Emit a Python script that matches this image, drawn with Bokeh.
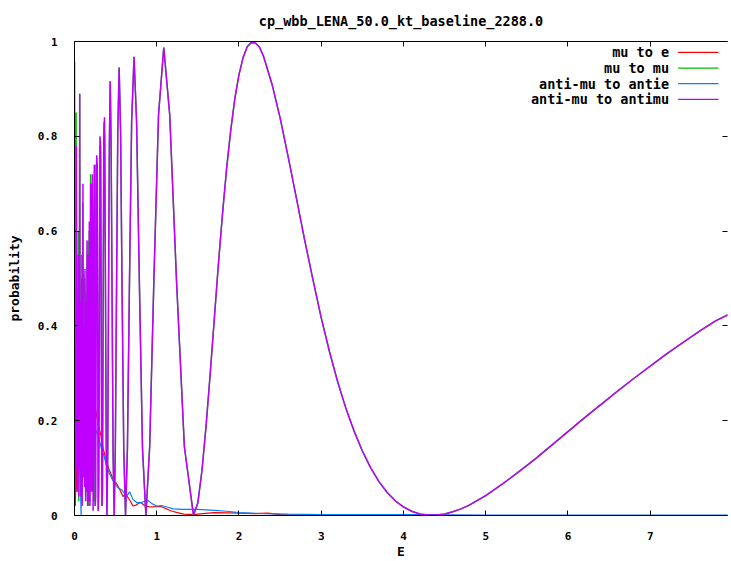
from bokeh.plotting import figure
from bokeh.models import Range1d, LinearAxis, FixedTicker, Label, BoxAnnotation, CustomLabelingPolicy
from bokeh.embed import file_html
from bokeh.resources import INLINE

title_text = "cp_wbb_LENA_50.0_kt_baseline_2288.0"
x_label = "E"
y_label = "probability"
series_names = ["mu to e", "mu to mu", "anti-mu to antie", "anti-mu to antimu"]
series_colors = ["#ff0000", "#00c000", "#0080ff", "#c000ff"]
x_ticks = [0, 1, 2, 3, 4, 5, 6, 7]
y_ticks = [0, 0.2, 0.4, 0.6, 0.8, 1.0]
y_tick_labels = ["0", "0.2", "0.4", "0.6", "0.8", "1"]

# anti-mu to antimu, low energy (dense oscillation region)
antimu_e_low = [0.004, 0.008, 0.013, 0.018, 0.023, 0.028, 0.033, 0.038, 0.043, 0.048,
                0.053, 0.058, 0.063, 0.068, 0.073, 0.078, 0.083, 0.088, 0.093, 0.098,
                0.103, 0.108, 0.113, 0.118, 0.123, 0.127, 0.131, 0.136, 0.140, 0.144,
                0.148, 0.152, 0.156, 0.160, 0.164, 0.168, 0.172, 0.176, 0.180, 0.184,
                0.188, 0.192, 0.197, 0.202, 0.207, 0.212, 0.217, 0.222, 0.226, 0.231,
                0.236, 0.242, 0.247, 0.252, 0.258, 0.264, 0.270, 0.277, 0.283, 0.289,
                0.296, 0.303, 0.310, 0.318, 0.326, 0.333, 0.340, 0.348, 0.356, 0.365,
                0.375, 0.385]
antimu_p_low = [0.20, 0.05, 0.35, 0.10, 0.78, 0.40, 0.05, 0.30, 0.10, 0.55,
                0.04, 0.20, 0.89, 0.10, 0.45, 0.04, 0.30, 0.50, 0.02, 0.15,
                0.70, 0.08, 0.40, 0.12, 0.06, 0.52, 0.38, 0.03, 0.45, 0.20,
                0.05, 0.58, 0.48, 0.02, 0.35, 0.55, 0.03, 0.20, 0.62, 0.30,
                0.02, 0.40, 0.70, 0.10, 0.05, 0.55, 0.72, 0.45, 0.01, 0.10,
                0.60, 0.74, 0.50, 0.02, 0.04, 0.40, 0.76, 0.74, 0.40, 0.01,
                0.06, 0.45, 0.80, 0.78, 0.35, 0.02, 0.05, 0.40, 0.80, 0.84,
                0.55, 0.15]

# survival probability, middle energies (shared by mu to mu and anti-mu to antimu)
surv_e_mid = [0.3947, 0.4039, 0.4135, 0.4236, 0.4342, 0.4453, 0.4571, 0.4694, 0.4824, 0.4962,
              0.5108, 0.5263, 0.5428, 0.5603, 0.5789, 0.5989, 0.6203, 0.6433, 0.6680, 0.6947,
              0.7237, 0.7551, 0.7895, 0.8270, 0.8684, 0.9141, 0.9649, 1.0216, 1.0855, 1.1579,
              1.2406, 1.3360]
surv_p_mid = [0.0, 0.13, 0.46, 0.78, 0.916, 0.78, 0.46, 0.13, 0.0, 0.14,
              0.47, 0.81, 0.945, 0.81, 0.47, 0.14, 0.0, 0.14, 0.485, 0.83,
              0.968, 0.83, 0.485, 0.14, 0.0, 0.145, 0.495, 0.845, 0.987, 0.845,
              0.495, 0.145]

# survival probability, high energies
surv_e_high = [1.447, 1.50, 1.55, 1.60, 1.65, 1.70, 1.75, 1.80, 1.85, 1.90,
               1.95, 2.00, 2.05, 2.10, 2.15, 2.20, 2.25, 2.30, 2.40, 2.50,
               2.60, 2.70, 2.80, 2.90, 3.00, 3.10, 3.20, 3.30, 3.40, 3.50,
               3.60, 3.70, 3.80, 3.90, 4.00, 4.10, 4.20, 4.30, 4.40, 4.50,
               4.60, 4.70, 4.80, 4.90, 5.00, 5.20, 5.40, 5.60, 5.80, 6.00,
               6.20, 6.40, 6.60, 6.80, 7.00, 7.20, 7.40, 7.60, 7.80, 8.00]
surv_p_high = [0.0, 0.027, 0.095, 0.189, 0.299, 0.415, 0.531, 0.637, 0.733, 0.813,
               0.880, 0.930, 0.966, 0.989, 0.998, 0.997, 0.988, 0.968, 0.911, 0.839,
               0.755, 0.668, 0.580, 0.497, 0.417, 0.346, 0.282, 0.226, 0.178, 0.136,
               0.101, 0.072, 0.049, 0.031, 0.018, 0.009, 0.003, 0.001, 0.001, 0.003,
               0.008, 0.014, 0.022, 0.032, 0.042, 0.066, 0.092, 0.119, 0.148, 0.177,
               0.206, 0.234, 0.262, 0.289, 0.315, 0.341, 0.365, 0.389, 0.411, 0.428]

# mu to mu, low energy
mumu_e_low = [0.002, 0.006, 0.010, 0.015, 0.020, 0.026, 0.031, 0.036, 0.041, 0.046,
              0.052, 0.058, 0.064, 0.070, 0.075, 0.080, 0.086, 0.092, 0.100, 0.106,
              0.112, 0.118, 0.126, 0.134, 0.141, 0.147, 0.153, 0.159, 0.166, 0.173,
              0.179, 0.186, 0.195, 0.203, 0.210, 0.218, 0.228, 0.235, 0.243, 0.251,
              0.262, 0.270, 0.280, 0.288, 0.298, 0.308, 0.318, 0.328, 0.338, 0.348,
              0.358, 0.368, 0.380]
mumu_p_low = [0.956, 0.10, 0.58, 0.20, 0.85, 0.30, 0.10, 0.45, 0.08, 0.60,
              0.03, 0.30, 0.89, 0.15, 0.40, 0.05, 0.55, 0.03, 0.66, 0.10,
              0.45, 0.10, 0.50, 0.04, 0.47, 0.05, 0.55, 0.03, 0.58, 0.02,
              0.60, 0.03, 0.72, 0.06, 0.70, 0.05, 0.62, 0.03, 0.74, 0.02,
              0.74, 0.74, 0.45, 0.01, 0.20, 0.78, 0.76, 0.30, 0.02, 0.45,
              0.83, 0.80, 0.35]

# mu to e
mue_e = [0.005, 0.010, 0.020, 0.030, 0.040, 0.050, 0.060, 0.070, 0.080, 0.090,
         0.100, 0.110, 0.120, 0.130, 0.140, 0.150, 0.160, 0.180, 0.200, 0.220,
         0.240, 0.260, 0.290, 0.320, 0.350, 0.380, 0.420, 0.450, 0.480, 0.510,
         0.550, 0.590, 0.620, 0.650, 0.680, 0.710, 0.750, 0.800, 0.860, 0.930,
         1.050, 1.170, 1.250, 1.330, 1.450, 1.560, 1.700, 2.000, 2.200, 2.350,
         2.500, 3.000, 4.000, 5.000, 6.000, 7.000, 8.000]
mue_p = [0.08, 0.02, 0.12, 0.05, 0.30, 0.08, 0.22, 0.35, 0.12, 0.40,
         0.30, 0.51, 0.44, 0.20, 0.32, 0.22, 0.28, 0.24, 0.25, 0.20,
         0.24, 0.22, 0.19, 0.17, 0.14, 0.12, 0.097, 0.085, 0.072, 0.068,
         0.055, 0.040, 0.045, 0.038, 0.030, 0.020, 0.022, 0.028, 0.020, 0.018,
         0.019, 0.010, 0.006, 0.003, 0.002, 0.004, 0.006, 0.005, 0.004, 0.005,
         0.002, 0.001, 0.001, 0.0, 0.0, 0.0, 0.0]

# anti-mu to antie
antie_e = [0.005, 0.012, 0.020, 0.030, 0.040, 0.050, 0.060, 0.070, 0.080, 0.090,
           0.100, 0.110, 0.120, 0.140, 0.160, 0.190, 0.220, 0.240, 0.270, 0.300,
           0.330, 0.360, 0.390, 0.420, 0.460, 0.500, 0.530, 0.570, 0.600, 0.630,
           0.670, 0.710, 0.760, 0.810, 0.850, 0.890, 0.940, 1.000, 1.060, 1.120,
           1.200, 1.300, 1.500, 1.700, 1.850, 2.000, 2.300, 2.600, 3.000, 4.000,
           5.000, 6.000, 7.000, 8.000]
antie_p = [0.05, 0.40, 0.12, 0.28, 0.08, 0.22, 0.30, 0.10, 0.0, 0.15,
           0.27, 0.22, 0.26, 0.25, 0.22, 0.21, 0.20, 0.19, 0.175, 0.16,
           0.14, 0.125, 0.105, 0.09, 0.076, 0.065, 0.058, 0.055, 0.048, 0.040,
           0.050, 0.034, 0.027, 0.027, 0.030, 0.032, 0.025, 0.020, 0.021, 0.018,
           0.014, 0.013, 0.013, 0.011, 0.009, 0.006, 0.004, 0.003, 0.002, 0.002,
           0.001, 0.001, 0.001, 0.001]

series_x = [mue_e,
            mumu_e_low + surv_e_mid + surv_e_high,
            antie_e,
            antimu_e_low + surv_e_mid + surv_e_high]
series_y = [mue_p,
            mumu_p_low + surv_p_mid + surv_p_high,
            antie_p,
            antimu_p_low + surv_p_mid + surv_p_high]
series_widths = [1.2, 1.4, 1.2, 1.5]

FONT = "DejaVu Sans Mono"

p = figure(width=731, height=561, x_range=Range1d(0, 7.94), y_range=Range1d(0, 1),
           output_backend="svg", toolbar_location=None, title=title_text,
           min_border_left=74, min_border_right=0, min_border_top=41, min_border_bottom=45)
p.background_fill_color = "white"
p.border_fill_color = "white"
p.outline_line_color = None
p.xgrid.visible = False
p.ygrid.visible = False

p.title.align = "center"
p.title.text_font = FONT
p.title.text_font_style = "bold"
p.title.text_font_size = "13.5px"
p.title.text_color = "black"
p.title.standoff = 18

for ax in p.xaxis:
    ax.ticker = FixedTicker(ticks=x_ticks)
for ax in p.yaxis:
    ax.ticker = FixedTicker(ticks=y_ticks)
    ax.major_label_overrides = {t: l for t, l in zip(y_ticks, y_tick_labels)}

p.xaxis.axis_label = x_label
p.yaxis.axis_label = y_label
for ax in list(p.xaxis) + list(p.yaxis):
    ax.major_tick_in = 5
    ax.major_tick_out = 0
    ax.minor_tick_in = 0
    ax.minor_tick_out = 0
    ax.axis_line_color = "black"
    ax.axis_line_width = 1
    ax.major_tick_line_color = "black"
    ax.major_label_text_font = FONT
    ax.major_label_text_font_style = "bold"
    ax.major_label_text_font_size = "11px"
    ax.major_label_text_color = "black"
    ax.axis_label_text_font = FONT
    ax.axis_label_text_font_style = "bold"
    ax.axis_label_text_font_size = "13px"
    ax.axis_label_text_color = "black"
p.xaxis.major_label_standoff = 16
p.xaxis.axis_label_standoff = 1
p.yaxis.major_label_standoff = 17
p.yaxis.axis_label_standoff = 13

hide_labels = "for (const i of indices) indices.unset(i); return indices"
top_axis = LinearAxis(ticker=FixedTicker(ticks=x_ticks), major_tick_in=5, major_tick_out=0,
                      minor_tick_in=0, minor_tick_out=0, major_label_standoff=0,
                      major_label_text_font_size="1px", axis_line_color="black",
                      major_label_policy=CustomLabelingPolicy(code=hide_labels))
p.add_layout(top_axis, "above")
right_axis = LinearAxis(ticker=FixedTicker(ticks=y_ticks), major_tick_in=5, major_tick_out=0,
                        minor_tick_in=0, minor_tick_out=0, major_label_standoff=0,
                        major_label_text_font_size="1px", axis_line_color=None,
                        major_label_policy=CustomLabelingPolicy(code=hide_labels))
p.add_layout(right_axis, "right")

for xs, ys, c, w in zip(series_x, series_y, series_colors, series_widths):
    p.line(xs, ys, line_color=c, line_width=w)

# legend, gnuplot style: text on the left, sample on the right
legend_text_x = 7.23
legend_sample_x0 = 7.34
legend_sample_x1 = 7.83
legend_rows_y = [0.977, 0.944, 0.911, 0.878]
for name, c, ly in zip(series_names, series_colors, legend_rows_y):
    p.add_layout(Label(x=legend_text_x, y=ly, text=name, text_align="right",
                       text_baseline="middle", text_font=FONT, text_font_style="bold",
                       text_font_size="13.5px", text_color="black"))
    p.add_layout(BoxAnnotation(left=legend_sample_x0, right=legend_sample_x1,
                               bottom=ly, top=ly, fill_alpha=0, line_color=c,
                               line_width=1.2, line_alpha=1))

open("out.html", "w").write(file_html(p, INLINE))
